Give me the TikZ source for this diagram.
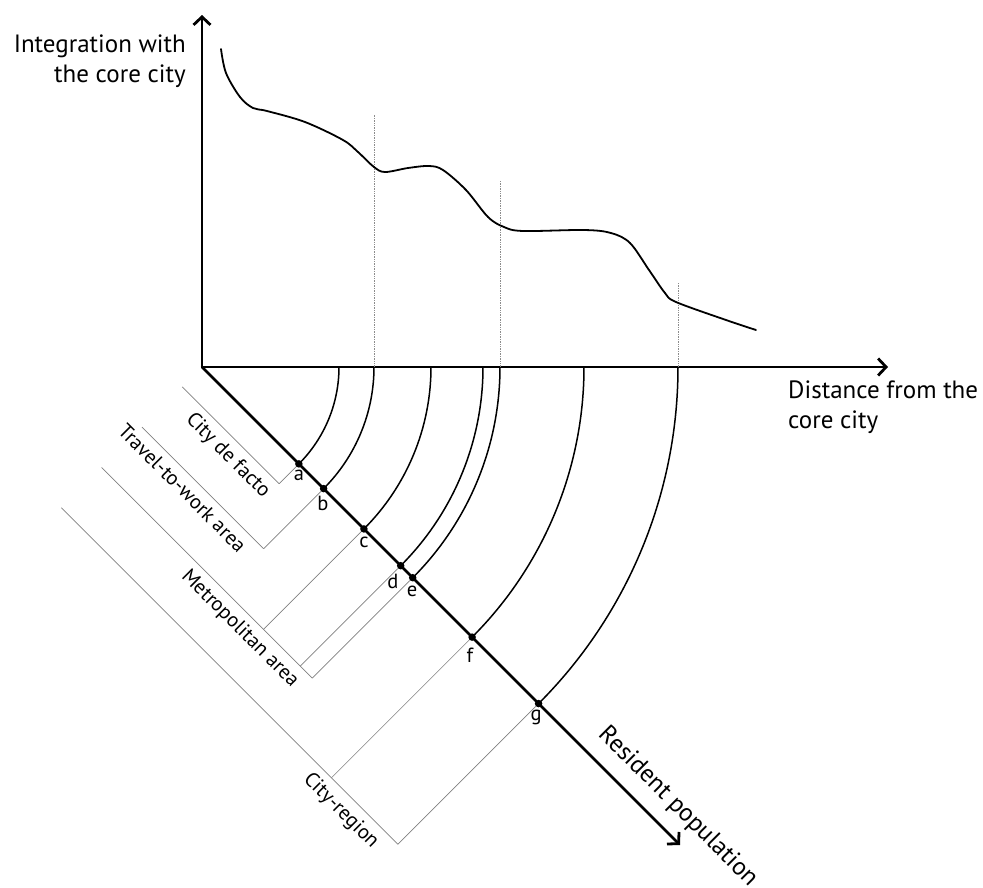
\documentclass[tikz,border=0pt]{standalone}
\usepackage{fontspec}
\setmainfont{PT Sans}
\usetikzlibrary{arrows.meta,calc}
\begin{document}
\begin{tikzpicture}[x=1pt,y=1pt,
  axisline/.style={line width=2.8pt},
  tip/.style={-{Straight Barb[length=8pt,width=17pt]}},
  arcline/.style={line width=1.5pt},
  curveline/.style={line width=1.8pt, line cap=round},
  bracket/.style={line width=0.7pt, draw=black!50},
  guide/.style={line width=0.6pt, draw=black!45, dash pattern=on 0.8pt off 0.9pt},
  dot/.style={circle, fill=black, inner sep=0pt, minimum size=7.5pt},
  bigtext/.style={font=\fontsize{25}{30}\selectfont, inner sep=0pt},
  smalltext/.style={font=\fontsize{20.5}{23}\selectfont, inner sep=0pt},
  bracketlabel/.style={smalltext, anchor=north, transform shape},
  pointlabel/.style={smalltext}
]
\useasboundingbox (0,0) rectangle (983,-887);

% axes
\coordinate (O) at (202,-367);
\coordinate (ytip) at (202,-15);
\coordinate (xtip) at (888,-367);
\draw[axisline, line cap=butt, tip] (O) -- (ytip);
\draw[axisline, tip] ([xshift=-1.4pt]O) -- (xtip);

% points on the distance axis
\coordinate (h1) at (339,-367);
\coordinate (h2) at (374,-367);
\coordinate (h3) at (431,-367);
\coordinate (h4) at (483,-367);
\coordinate (h5) at (500,-367);
\coordinate (h6) at (584,-367);
\coordinate (h7) at (678,-367);

% dotted guides
\coordinate (t2) at (374,-114);
\coordinate (t5) at (500,-181);
\coordinate (t7) at (678,-283);
\draw[guide] (h2) -- (t2);
\draw[guide] (h5) -- (t5);
\draw[guide] (h7) -- (t7);

% integration curve
\draw[curveline] plot[smooth, tension=0.55] coordinates {
 (221,-49) (226,-73) (240,-97) (253,-108) (267,-111) (305,-122) (343,-140)
 (358,-152) (374,-167) (385,-172) (408,-168) (429,-166) (443,-170) (466,-190)
 (488,-217) (504,-227) (523,-231) (584,-230) (611,-233) (630,-243) (649,-270)
 (665,-293) (676,-302) (726,-320) (756,-330)};

% arcs
\draw[arcline] (h1) arc[start angle=0, end angle=-45, radius=137pt];
\draw[arcline] (h2) arc[start angle=0, end angle=-45, radius=172pt];
\draw[arcline] (h3) arc[start angle=0, end angle=-45, radius=229pt];
\draw[arcline] (h4) arc[start angle=0, end angle=-45, radius=281pt];
\draw[arcline] (h5) arc[start angle=0, end angle=-45, radius=298pt];
\draw[arcline] (h6) arc[start angle=0, end angle=-45, radius=382pt];
\draw[arcline] (h7) arc[start angle=0, end angle=-45, radius=476pt];

\begin{scope}[shift={(O)}, rotate=-45]
  \coordinate (ztip) at (676,0);
  \draw[axisline, tip, line cap=round] (0,0) -- (ztip);

  % brackets
  \coordinate (cdf0) at (0,-28);   \coordinate (cdfa) at (137,-28);
  \coordinate (ttw0) at (0,-85);   \coordinate (ttwb) at (172,-85);
  \coordinate (met0) at (0,-142);  \coordinate (metc) at (229,-142);
  \coordinate (metd) at (281,-142);\coordinate (mete) at (298,-142);
  \coordinate (cr0) at (0,-199);   \coordinate (crf) at (382,-199);
  \coordinate (crg) at (476,-199);

  \draw[bracket] (cdf0) -- (cdfa);
  \draw[bracket] (ttw0) -- (ttwb);
  \draw[bracket] (met0) -- (mete);
  \draw[bracket] (cr0) -- (crg);

  % dots
  \node[dot] (a) at (137,0) {};
  \node[dot] (b) at (172,0) {};
  \node[dot] (c) at (229,0) {};
  \node[dot] (d) at (281,0) {};
  \node[dot] (e) at (298,0) {};
  \node[dot] (f) at (382,0) {};
  \node[dot] (g) at (476,0) {};

  \draw[bracket] (cdfa) -- (a);
  \draw[bracket] (ttwb) -- (b);
  \draw[bracket] (metc) -- (c);
  \draw[bracket] (metd) -- (d);
  \draw[bracket] (mete) -- (e);
  \draw[bracket] (crf) -- (f);
  \draw[bracket] (crg) -- (g);

  % bracket labels
  \node[bracketlabel] (lcdf) at (81,-35) {City de facto};
  \node[bracketlabel] (lttw) at (72,-92) {Travel-to-work area};
  \node[bracketlabel] (lmet) at (212,-149) {Metropolitan area};
  \node[bracketlabel] (lcr) at (412,-206) {City-region};

  \node[bigtext, anchor=base west, transform shape] (lres) at (540,19) {Resident population};
\end{scope}

% point labels
\node[pointlabel] (la) at (299,-475) {a};
\node[pointlabel] (lb) at (323,-503) {b};
\node[pointlabel] (lc) at (364,-542) {c};
\node[pointlabel] (ld) at (393,-581) {d};
\node[pointlabel] (le) at (412,-591) {e};
\node[pointlabel] (lf) at (470,-655) {f};
\node[pointlabel] (lg) at (536,-717) {g};

% axis titles
\node[bigtext, align=right, anchor=north east] (ytitle) at (186,-35) {Integration with\\the core city};
\node[bigtext, align=left, anchor=north west] (xtitle) at (788,-381) {Distance from the\\core city};
\end{tikzpicture}
\end{document}
